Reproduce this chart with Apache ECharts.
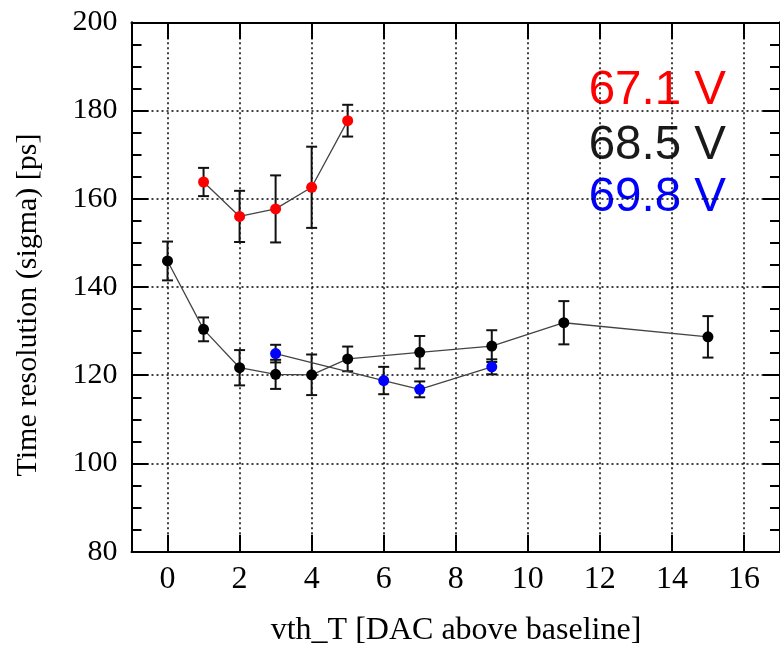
<!DOCTYPE html>
<html>
<head>
<meta charset="utf-8">
<script src="https://cdn.jsdelivr.net/npm/echarts@6/dist/echarts.min.js"></script>
<style>
html,body{margin:0;padding:0;background:#fff;}
#c{width:780px;height:646px;}
</style>
</head>
<body>
<div id="c"></div>
<script>
// Data
const redLabel = '67.1 V';
const redX   = [1, 2, 3, 4, 5];
const redY   = [163.8, 156.0, 157.7, 162.6, 177.7];
const redErr = [3.2, 5.8, 7.6, 9.2, 3.6];

const blackLabel = '68.5 V';
const blackX   = [0, 1, 2, 3, 4, 5, 7, 9, 11, 15];
const blackY   = [145.9, 130.4, 121.7, 120.2, 120.1, 123.7, 125.2, 126.6, 131.9, 128.7];
const blackErr = [4.4, 2.7, 4.0, 3.3, 4.6, 2.8, 3.7, 3.6, 4.9, 4.7];

const blueLabel = '69.8 V';
const blueX   = [3, 6, 7, 9];
const blueY   = [124.9, 118.8, 116.8, 121.9];
const blueErr = [2.0, 3.1, 1.8, 1.7];

const xTicks = [0, 2, 4, 6, 8, 10, 12, 14, 16];

const xTitle = 'vth_T [DAC above baseline]';
const yTitle = 'Time resolution (sigma) [ps]';

const chart = echarts.init(document.getElementById('c'), null, {renderer: 'canvas'});

function pts(xs, ys) { return xs.map((x, i) => [x, ys[i]]); }
function errData(xs, ys, es) { return xs.map((x, i) => [x, ys[i] - es[i], ys[i] + es[i]]); }

function errorSeries(xs, ys, es) {
  return {
    type: 'custom',
    xAxisIndex: 0, yAxisIndex: 0,
    z: 2,
    silent: true,
    data: errData(xs, ys, es),
    renderItem: function (params, api) {
      const x = api.value(0);
      const lo = api.coord([x, api.value(1)]);
      const hi = api.coord([x, api.value(2)]);
      const hw = 5.5;
      const st = {stroke: '#111', lineWidth: 2};
      return {
        type: 'group',
        children: [
          {type: 'line', shape: {x1: lo[0], y1: lo[1], x2: hi[0], y2: hi[1]}, style: st},
          {type: 'line', shape: {x1: lo[0] - hw, y1: lo[1], x2: lo[0] + hw, y2: lo[1]}, style: st},
          {type: 'line', shape: {x1: hi[0] - hw, y1: hi[1], x2: hi[0] + hw, y2: hi[1]}, style: st}
        ]
      };
    }
  };
}

function lineSeries(name, xs, ys, color) {
  return {
    type: 'line',
    name: name,
    xAxisIndex: 0, yAxisIndex: 0,
    z: 3,
    data: pts(xs, ys),
    symbol: 'circle',
    symbolSize: 11,
    itemStyle: {color: color},
    lineStyle: {color: '#444', width: 1.3},
    animation: false
  };
}

const axisLineStyle = {show: true, onZero: false, lineStyle: {color: '#000', width: 2}};
const gridLine = {show: true, lineStyle: {color: '#000', width: 1.5, type: [2, 3]}};

const option = {
  backgroundColor: '#fff',
  animation: false,
  grid: {left: 131.5, top: 22.3, width: 651, height: 529.4, containLabel: false},
  xAxis: [
    {
      type: 'value', position: 'bottom', min: -1, max: 17,
      axisLine: axisLineStyle,
      axisTick: {show: true, inside: true, length: 17, customValues: xTicks, lineStyle: {color: '#000', width: 2}},
      axisLabel: {show: true, customValues: xTicks, margin: 12,
        fontFamily: 'Liberation Serif', fontSize: 32, color: '#000'},
      splitLine: gridLine
    },
    {
      type: 'value', position: 'top', min: -1, max: 17,
      axisLine: axisLineStyle,
      axisTick: {show: true, inside: true, length: 17, customValues: xTicks, lineStyle: {color: '#000', width: 2}},
      axisLabel: {show: false, customValues: xTicks},
      splitLine: {show: false}
    }
  ],
  yAxis: [
    {
      type: 'value', position: 'left', min: 80, max: 200, interval: 20,
      axisLine: axisLineStyle,
      axisTick: {show: true, inside: true, length: 17, lineStyle: {color: '#000', width: 2}},
      minorTick: {show: true, splitNumber: 4, length: 10, lineStyle: {color: '#000', width: 2}},
      axisLabel: {show: true, margin: 14, fontFamily: 'Liberation Serif', fontSize: 30, color: '#000'},
      splitLine: gridLine
    },
    {
      type: 'value', position: 'right', min: 80, max: 200, interval: 20,
      axisLine: axisLineStyle,
      axisTick: {show: true, inside: true, length: 17, lineStyle: {color: '#000', width: 2}},
      minorTick: {show: true, splitNumber: 4, length: 10, lineStyle: {color: '#000', width: 2}},
      axisLabel: {show: false},
      splitLine: {show: false}
    }
  ],
  graphic: [
    {type: 'text', x: 456, y: 631, style: {text: xTitle, fontFamily: 'Liberation Serif', fontSize: 32,
      fill: '#000', align: 'center', verticalAlign: 'middle'}},
    {type: 'text', x: 28, y: 305, rotation: Math.PI / 2, style: {text: yTitle, fontFamily: 'Liberation Serif',
      fontSize: 30, fill: '#000', align: 'center', verticalAlign: 'middle'}},
    {type: 'text', x: 726, y: 67, style: {text: redLabel, fontFamily: 'Liberation Sans', fontSize: 47.5,
      fill: '#ff0000', align: 'right', verticalAlign: 'top'}},
    {type: 'text', x: 726, y: 122, style: {text: blackLabel, fontFamily: 'Liberation Sans', fontSize: 47.5,
      fill: '#1a1a1a', align: 'right', verticalAlign: 'top'}},
    {type: 'text', x: 726, y: 174, style: {text: blueLabel, fontFamily: 'Liberation Sans', fontSize: 47.5,
      fill: '#0000ff', align: 'right', verticalAlign: 'top'}}
  ],
  series: [
    errorSeries(redX, redY, redErr),
    errorSeries(blackX, blackY, blackErr),
    errorSeries(blueX, blueY, blueErr),
    lineSeries(redLabel, redX, redY, '#ff0000'),
    lineSeries(blackLabel, blackX, blackY, '#000000'),
    lineSeries(blueLabel, blueX, blueY, '#0000ff')
  ]
};
chart.setOption(option);
</script>
</body>
</html>
